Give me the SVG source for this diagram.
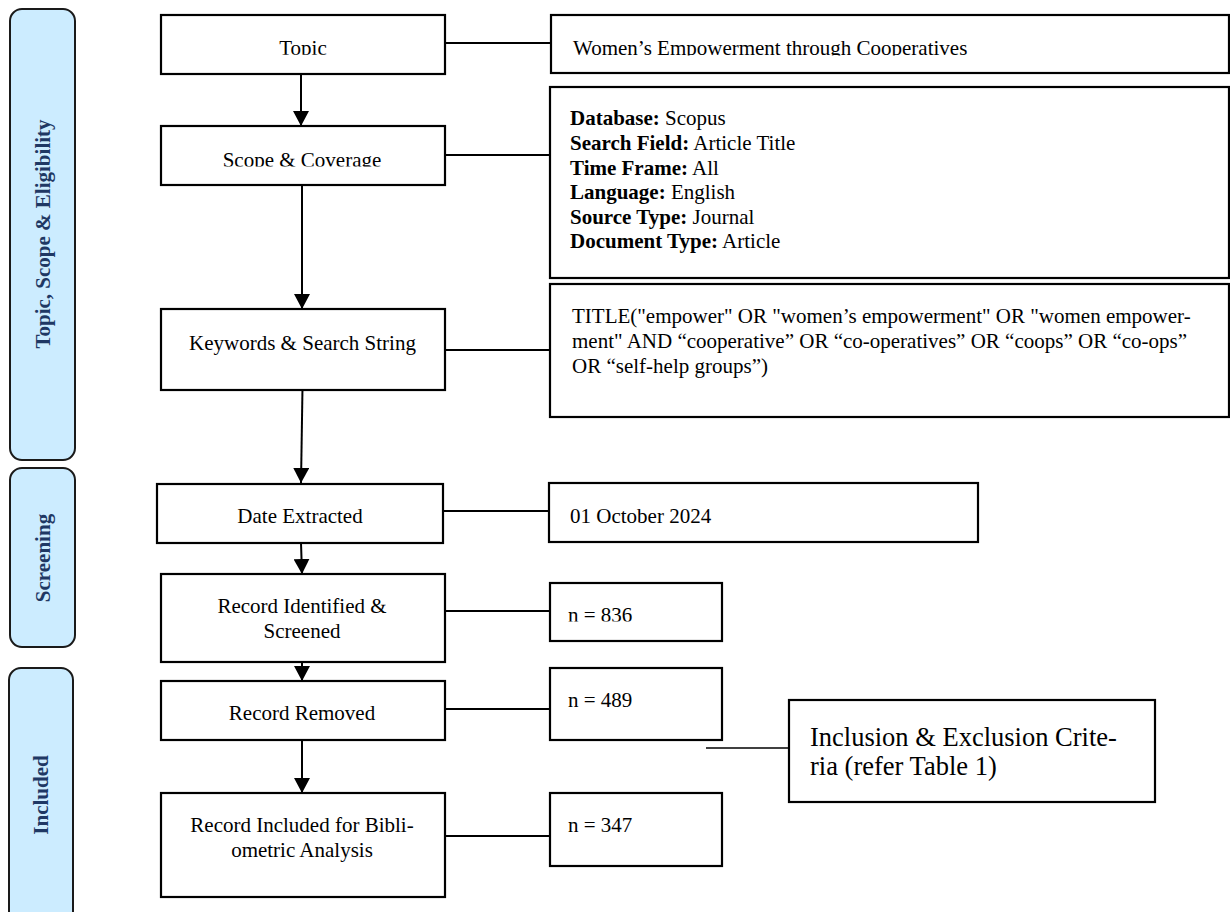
<svg xmlns="http://www.w3.org/2000/svg" width="1230" height="912" viewBox="0 0 1230 912">
<style>
  .panel { fill: #CCECFF; stroke: #1a1a1a; stroke-width: 2; }
  .plabel { font-family: "Liberation Serif", "Times New Roman", serif; font-weight: bold; font-size: 21px; fill: #1F3864; text-anchor: middle; }
  .box { fill: #ffffff; stroke: #000000; stroke-width: 2.2; }
  .t { font-family: "Liberation Serif", "Times New Roman", serif; font-size: 21px; fill: #000000; }
  .c { text-anchor: middle; }
  .b { font-weight: bold; }
  .big { font-size: 26.5px; }
  .conn { stroke: #000000; stroke-width: 2; fill: none; }
  .thin { stroke-width: 1.3; }
</style>
<defs>
  <marker id="arr" markerUnits="userSpaceOnUse" markerWidth="15" markerHeight="16" viewBox="0 0 15 16" refX="15" refY="8" orient="auto">
    <path d="M0,0 L15,8 L0,16 Z" fill="#000000"/>
  </marker>
  <clipPath id="clipTopic"><rect x="161" y="15" width="284" height="39.8"/></clipPath>
  <clipPath id="clipScope"><rect x="161" y="126" width="284" height="40.6"/></clipPath>
  <clipPath id="clipWomen"><rect x="551" y="15" width="678" height="40.4"/></clipPath>
  <clipPath id="clip836"><rect x="550" y="583" width="172" height="38.6"/></clipPath>
</defs>

<g id="panel-topic-scope">
  <rect class="panel" x="10" y="9" width="65" height="451" rx="12"/>
  <text class="plabel" transform="translate(50,234) rotate(-90)">Topic, Scope &amp; Eligibility</text>
</g>
<g id="panel-screening">
  <rect class="panel" x="10" y="468" width="65" height="179" rx="12"/>
  <text class="plabel" transform="translate(50,558) rotate(-90)">Screening</text>
</g>
<g id="panel-included">
  <rect class="panel" x="9" y="668" width="64" height="270" rx="12"/>
  <text class="plabel" transform="translate(48,795) rotate(-90)">Included</text>
</g>

<g id="connectors">
  <line class="conn" x1="301" y1="74" x2="301" y2="126" marker-end="url(#arr)"/>
  <line class="conn" x1="302" y1="185" x2="302" y2="309" marker-end="url(#arr)"/>
  <line class="conn" x1="302.5" y1="387" x2="301" y2="483" marker-end="url(#arr)"/>
  <line class="conn" x1="301" y1="543" x2="302" y2="574" marker-end="url(#arr)"/>
  <line class="conn" x1="302" y1="650" x2="302" y2="681" marker-end="url(#arr)"/>
  <line class="conn" x1="302" y1="740" x2="302" y2="793" marker-end="url(#arr)"/>
  <line class="conn" x1="445" y1="43" x2="551" y2="43"/>
  <line class="conn" x1="443" y1="155" x2="550" y2="155"/>
  <line class="conn" x1="445" y1="350" x2="550" y2="350"/>
  <line class="conn" x1="443" y1="511" x2="549" y2="511"/>
  <line class="conn" x1="445" y1="611" x2="550" y2="611"/>
  <line class="conn" x1="443" y1="709" x2="550" y2="709"/>
  <line class="conn" x1="443" y1="836" x2="550" y2="836"/>
  <line class="conn thin" x1="706" y1="748" x2="789" y2="748"/>
</g>

<g id="node-topic">
  <rect class="box" x="161" y="15" width="284" height="59"/>
  <text class="t c" x="303" y="55" clip-path="url(#clipTopic)">Topic</text>
</g>
<g id="node-scope">
  <rect class="box" x="161" y="126" width="284" height="59"/>
  <text class="t c" x="302" y="167" clip-path="url(#clipScope)">Scope &amp; Coverage</text>
</g>
<g id="node-keywords">
  <rect class="box" x="161" y="309" width="284" height="81"/>
  <text class="t c" x="302.5" y="350">Keywords &amp; Search String</text>
</g>
<g id="node-date">
  <rect class="box" x="157" y="484" width="286" height="59"/>
  <text class="t c" x="300" y="523">Date Extracted</text>
</g>
<g id="node-identified">
  <rect class="box" x="161" y="574" width="284" height="88"/>
  <text class="t c" x="302" y="613">Record Identified &amp;</text>
  <text class="t c" x="302" y="638">Screened</text>
</g>
<g id="node-removed">
  <rect class="box" x="161" y="681" width="284" height="59"/>
  <text class="t c" x="302" y="720">Record Removed</text>
</g>
<g id="node-included">
  <rect class="box" x="161" y="793" width="284" height="104"/>
  <text class="t c" x="302" y="832">Record Included for Bibli-</text>
  <text class="t c" x="302" y="857">ometric Analysis</text>
</g>

<g id="node-topic-detail">
  <rect class="box" x="551" y="15" width="678" height="58"/>
  <text class="t" x="573" y="55" clip-path="url(#clipWomen)">Women’s Empowerment through Cooperatives</text>
</g>
<g id="node-scope-detail">
  <rect class="box" x="550" y="87" width="679" height="191"/>
  <text class="t" x="570" y="125"><tspan class="b">Database:</tspan> Scopus</text>
  <text class="t" x="570" y="150"><tspan class="b">Search Field:</tspan> Article Title</text>
  <text class="t" x="570" y="175"><tspan class="b">Time Frame:</tspan> All</text>
  <text class="t" x="570" y="199"><tspan class="b">Language:</tspan> English</text>
  <text class="t" x="570" y="224"><tspan class="b">Source Type:</tspan> Journal</text>
  <text class="t" x="570" y="248"><tspan class="b">Document Type:</tspan> Article</text>
</g>
<g id="node-search-string">
  <rect class="box" x="550" y="284" width="679" height="133"/>
  <text class="t" x="572" y="323">TITLE("empower" OR "women’s empowerment" OR "women empower-</text>
  <text class="t" x="572" y="348">ment" AND “cooperative” OR “co-operatives” OR “coops” OR “co-ops”</text>
  <text class="t" x="572" y="373">OR “self-help groups”)</text>
</g>
<g id="node-date-value">
  <rect class="box" x="549" y="483" width="429" height="59"/>
  <text class="t" x="570" y="523">01 October 2024</text>
</g>
<g id="node-n836">
  <rect class="box" x="550" y="583" width="172" height="58"/>
  <text class="t" x="568" y="622" clip-path="url(#clip836)">n = 836</text>
</g>
<g id="node-n489">
  <rect class="box" x="550" y="668" width="172" height="72"/>
  <text class="t" x="568" y="707">n = 489</text>
</g>
<g id="node-n347">
  <rect class="box" x="550" y="793" width="172" height="73"/>
  <text class="t" x="568" y="832">n = 347</text>
</g>
<g id="node-criteria">
  <rect class="box" x="789" y="700" width="366" height="102"/>
  <text class="t big" x="810" y="746">Inclusion &amp; Exclusion Crite-</text>
  <text class="t big" x="810" y="775">ria (refer Table 1)</text>
</g>
</svg>
